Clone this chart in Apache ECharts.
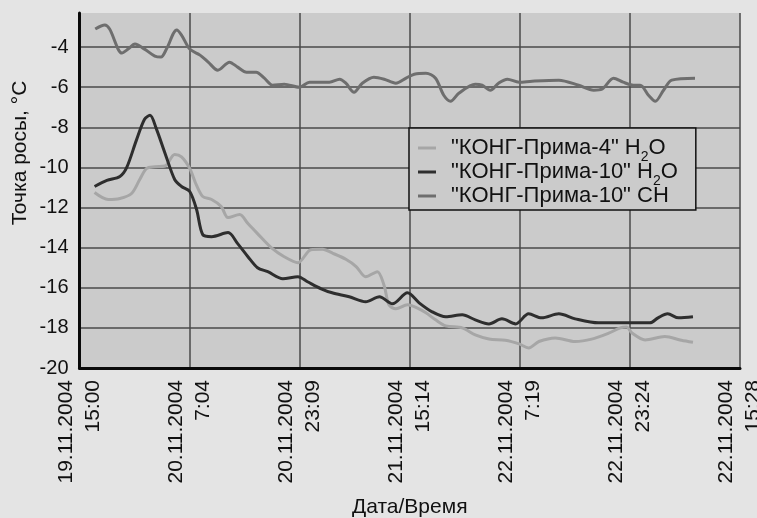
<!DOCTYPE html>
<html>
<head>
<meta charset="utf-8">
<script src="https://cdn.jsdelivr.net/npm/echarts@6/dist/echarts.min.js"></script>
<style>
html,body{margin:0;padding:0;background:#e4e4e4;}
#chart{width:757px;height:518px;}
</style>
</head>
<body>
<div id="chart"></div>
<script>
// x values: hours since 19.11.2004 15:00
var tickLabels = ['19.11.2004\n15:00','20.11.2004\n7:04','20.11.2004\n23:09','21.11.2004\n15:14','22.11.2004\n7:19','22.11.2004\n23:24','22.11.2004\n15:28'];
var tickStepHours = 16.078;
var yTicks = { min: -20, max: -2.3, step: 2 };
var seriesNames = ['"КОНГ-Прима-4" H2O', '"КОНГ-Прима-10" H2O', '"КОНГ-Прима-10" CH'];

var prima4H2O = [[2.2,-11.25],[4.2,-11.6],[5.9,-11.55],[7.6,-11.3],[8.8,-10.6],[9.8,-10.05],[11.0,-9.97],[12.5,-9.93],[13.9,-9.35],[14.9,-9.47],[16.1,-10.05],[17.1,-10.9],[18.0,-11.45],[19.3,-11.6],[20.7,-11.95],[21.7,-12.5],[23.4,-12.35],[24.6,-12.8],[26.0,-13.3],[28.0,-14.0],[29.9,-14.45],[31.9,-14.75],[33.8,-14.1],[35.5,-14.08],[37.0,-14.28],[38.9,-14.58],[40.4,-14.94],[41.8,-15.45],[43.5,-15.2],[44.5,-15.9],[45.2,-16.85],[46.2,-17.05],[47.9,-16.85],[49.3,-17.0],[50.6,-17.25],[52.0,-17.6],[53.5,-17.9],[55.9,-18.0],[57.8,-18.35],[59.8,-18.55],[62.2,-18.62],[64.2,-18.8],[65.6,-19.0],[67.1,-18.68],[69.5,-18.5],[72.4,-18.68],[74.8,-18.56],[77.3,-18.26],[79.0,-18.0],[79.9,-17.96],[80.7,-18.26],[82.6,-18.6],[85.5,-18.43],[87.9,-18.62],[89.6,-18.72]];

var prima10H2O = [[2.2,-10.95],[4.0,-10.65],[5.9,-10.45],[6.9,-10.0],[8.3,-8.65],[9.5,-7.6],[10.3,-7.4],[11.2,-8.05],[12.5,-9.3],[13.9,-10.6],[14.9,-10.95],[16.1,-11.2],[17.1,-12.1],[18.0,-13.35],[19.3,-13.45],[21.7,-13.25],[23.1,-13.8],[24.6,-14.45],[26.0,-15.0],[27.5,-15.2],[29.7,-15.55],[31.9,-15.45],[33.3,-15.7],[35.3,-16.05],[36.9,-16.25],[39.4,-16.45],[41.8,-16.7],[43.8,-16.45],[45.7,-16.8],[47.9,-16.25],[49.6,-16.75],[51.5,-17.2],[53.5,-17.45],[55.9,-17.35],[57.8,-17.6],[59.8,-17.8],[61.7,-17.55],[63.7,-17.8],[65.6,-17.3],[67.5,-17.5],[70.0,-17.3],[72.4,-17.55],[75.8,-17.75],[80.2,-17.75],[83.3,-17.75],[84.5,-17.5],[85.9,-17.3],[87.5,-17.5],[89.6,-17.45]];

var prima10CH = [[2.3,-3.1],[3.7,-2.9],[4.4,-3.1],[6.2,-4.3],[7.1,-4.1],[8.1,-3.85],[9.5,-4.1],[11.0,-4.45],[11.9,-4.5],[12.7,-4.1],[14.2,-3.15],[14.9,-3.4],[16.1,-4.1],[17.6,-4.4],[18.8,-4.75],[20.2,-5.15],[21.9,-4.75],[23.1,-5.0],[24.4,-5.25],[25.8,-5.25],[27.0,-5.55],[28.2,-5.9],[29.9,-5.85],[32.1,-6.0],[33.6,-5.75],[36.5,-5.75],[38.0,-5.6],[38.9,-5.8],[40.1,-6.25],[41.3,-5.8],[43.0,-5.5],[44.5,-5.6],[46.2,-5.8],[47.7,-5.55],[48.9,-5.35],[50.6,-5.3],[52.0,-5.55],[53.2,-6.4],[54.2,-6.7],[55.4,-6.3],[57.8,-5.85],[58.8,-5.9],[60.0,-6.15],[61.2,-5.8],[62.5,-5.6],[64.2,-5.75],[66.1,-5.7],[70.0,-5.65],[72.9,-5.9],[75.1,-6.15],[76.3,-6.1],[78.0,-5.55],[79.4,-5.75],[80.9,-5.9],[81.9,-5.9],[83.1,-6.4],[84.1,-6.7],[85.3,-6.15],[86.5,-5.65],[89.9,-5.55]];

var FONT = '"Liberation Sans", Arial, sans-serif';
var chart = echarts.init(document.getElementById('chart'));

function legendFmt(name) {
  if (name.slice(-3) === 'H2O') {
    return '{t|' + name.slice(0, -2) + '}{s|2}{t|O}';
  }
  return '{t|' + name + '}';
}

chart.setOption({
  backgroundColor: '#e4e4e4',
  animation: false,
  grid: { left: 79.5, right: 17, top: 13, bottom: 150, show: true, backgroundColor: '#cbcbcb', borderWidth: 0, outerBoundsMode: 'none', containLabel: false },
  xAxis: {
    type: 'value', min: 0, max: tickStepHours * (tickLabels.length - 1), interval: tickStepHours,
    name: 'Дата/Время', nameLocation: 'middle', nameGap: 129,
    nameTextStyle: { fontFamily: FONT, fontSize: 21, color: '#111' },
    axisLine: { lineStyle: { color: '#0a0a0a', width: 3 } },
    axisTick: { show: false },
    splitLine: { show: true, lineStyle: { color: '#4a4a4a', width: 1.5 } },
    axisLabel: {
      rotate: 90, margin: 12, fontFamily: FONT, fontSize: 21, color: '#111', lineHeight: 27,
      formatter: function (v) { return tickLabels[Math.round(v / tickStepHours)] || ''; }
    }
  },
  yAxis: {
    type: 'value', min: yTicks.min, max: yTicks.max, interval: yTicks.step,
    axisLine: { show: true, lineStyle: { color: '#0a0a0a', width: 3 } },
    axisTick: { show: false },
    splitLine: { show: true, showMaxLine: false, lineStyle: { color: '#4a4a4a', width: 1.5 } },
    axisLabel: { showMaxLabel: false, margin: 11, fontFamily: FONT, fontSize: 20, color: '#111' }
  },
  graphic: [{
    type: 'text', x: 20, y: 153, rotation: Math.PI / 2,
    style: { text: 'Точка росы, °С', font: '21px ' + FONT, fill: '#111', align: 'center', verticalAlign: 'middle' }
  }],
  legend: {
    orient: 'vertical', left: 409, top: 128,
    padding: [8, 18, 2, 9],
    backgroundColor: '#cbcbcb', borderColor: '#111', borderWidth: 1.5, borderRadius: 0,
    itemWidth: 18, itemHeight: 3, itemGap: -4, icon: 'rect',
    formatter: legendFmt,
    textStyle: {
      fontSize: 22, lineHeight: 24,
      padding: [0, 0, 0, 10],
      rich: {
        t: { fontFamily: FONT, fontSize: 22, lineHeight: 24, color: '#111' },
        s: { fontFamily: FONT, fontSize: 14, lineHeight: 24, height: 6, color: '#111', verticalAlign: 'top', padding: [18, 0, 0, 0] }
      }
    },
    data: seriesNames
  },
  series: [
    { name: seriesNames[0], type: 'line', data: prima4H2O, smooth: 0.3, showSymbol: false, lineStyle: { color: '#a6a6a6', width: 3 }, itemStyle: { color: '#a6a6a6' }, z: 3 },
    { name: seriesNames[1], type: 'line', data: prima10H2O, smooth: 0.3, showSymbol: false, lineStyle: { color: '#2e2e2e', width: 3 }, itemStyle: { color: '#2e2e2e' }, z: 4 },
    { name: seriesNames[2], type: 'line', data: prima10CH, smooth: 0.3, showSymbol: false, lineStyle: { color: '#6e6e6e', width: 3 }, itemStyle: { color: '#6e6e6e' }, z: 3 }
  ]
});
</script>
</body>
</html>
